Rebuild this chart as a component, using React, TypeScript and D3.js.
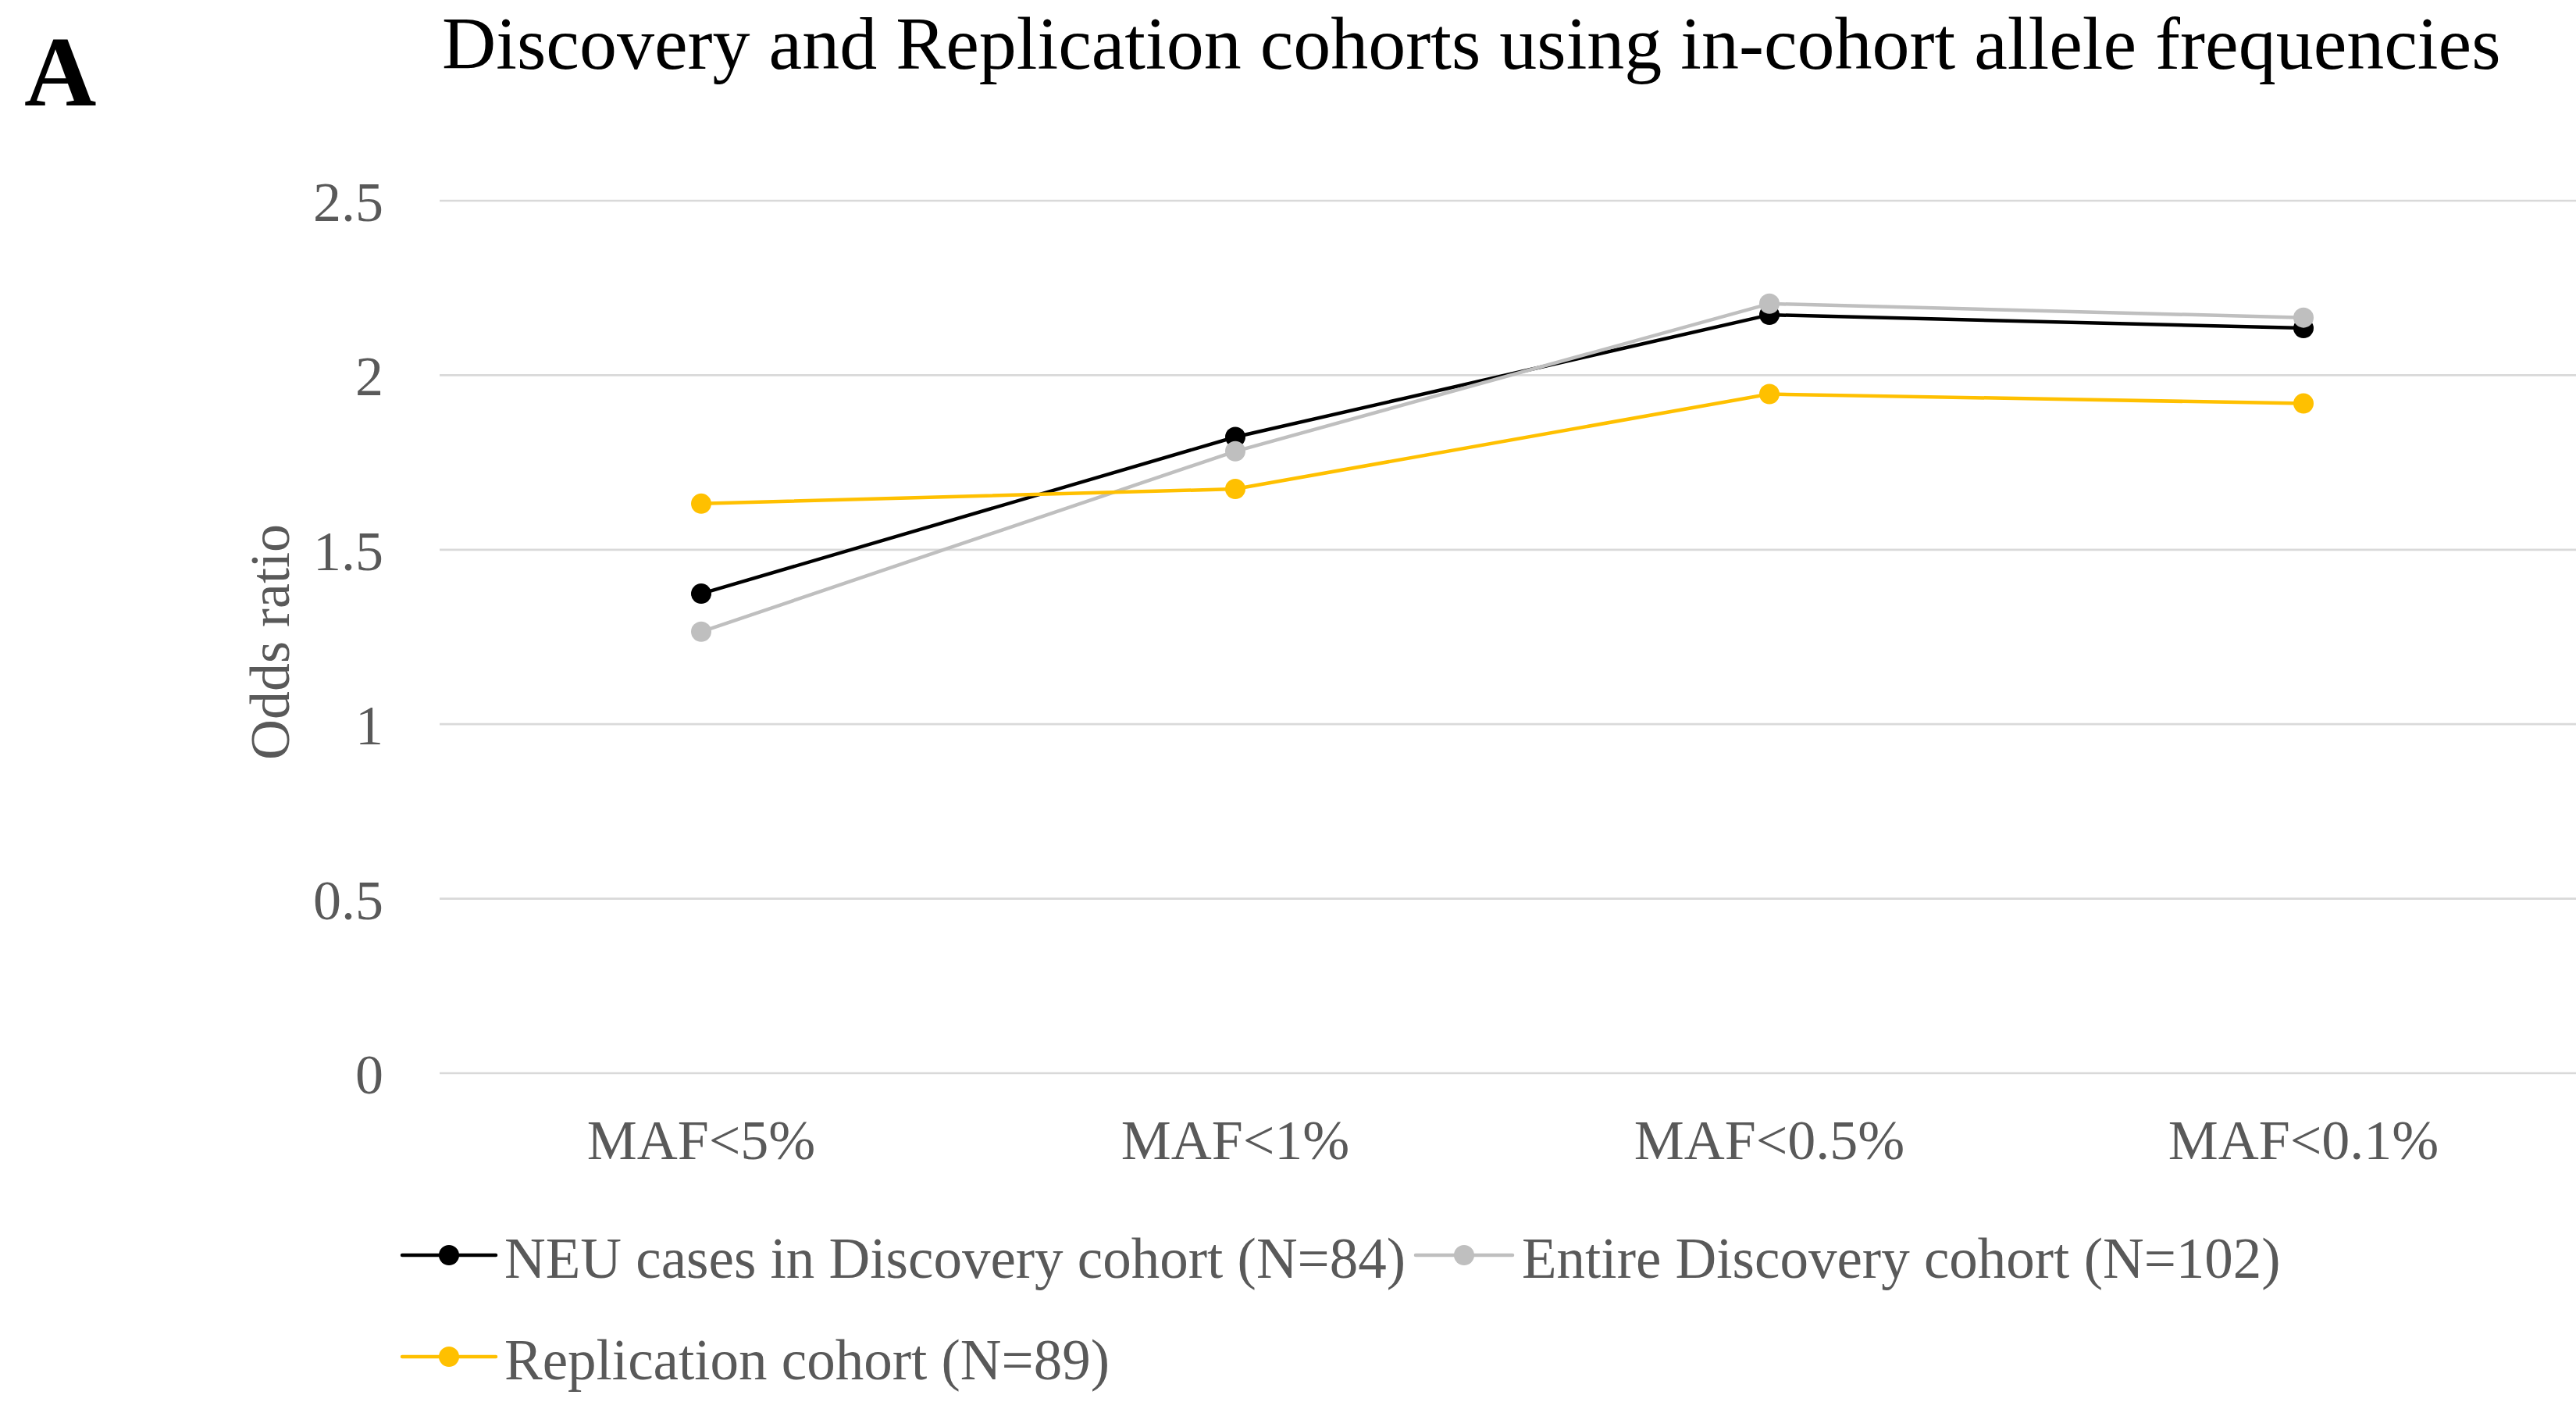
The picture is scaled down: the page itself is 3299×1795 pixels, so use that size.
import React from 'react';
import * as d3 from 'd3';

// chart data
const categories = ['MAF<5%', 'MAF<1%', 'MAF<0.5%', 'MAF<0.1%'];
const neuDiscovery = [1.374, 1.823, 2.173, 2.135];
const entireDiscovery = [1.265, 1.782, 2.205, 2.165];
const replication = [1.632, 1.674, 1.946, 1.919];
const yTicks = [0, 0.5, 1, 1.5, 2, 2.5];
const seriesNames = [
  'NEU cases in Discovery cohort (N=84)',
  'Entire Discovery cohort (N=102)',
  'Replication cohort (N=89)',
];
const seriesColors = ['#000000', '#BFBFBF', '#FFC000'];

const W = 3299;
const H = 1795;
const FONT = '"Liberation Serif", "Times New Roman", serif';

const App: React.FC = () => {
  const x = d3.scalePoint<string>().domain(categories).range([556, 3292]).padding(0.5);
  const y = d3.scaleLinear().domain([0, 2.5]).range([1374, 257]);

  const line = d3.line<number>()
    .x((d, i) => x(categories[i]) as number)
    .y(d => y(d));

  const series = [neuDiscovery, entireDiscovery, replication];

  // legend layout: [lineStart, lineEnd, textX, baselineY]
  const legendPos = [
    [515, 635, 646, 1636],
    [1813, 1937, 1949, 1636],
    [515, 635, 646, 1766],
  ];

  return (
    <svg width={W} height={H} style={{ position: 'absolute', left: 0, top: 0, background: '#fff' }}
      fontFamily={FONT}>
      <rect x={0} y={0} width={W} height={H} fill="#fff" />

      {/* panel letter + title */}
      <text x={31} y={135} fontSize={128} fontWeight="bold" fill="#000">A</text>
      <text x={566} y={88} fontSize={96} fill="#000">
        Discovery and Replication cohorts using in-cohort allele frequencies
      </text>

      {/* gridlines */}
      {yTicks.map(t => (
        <line key={'g' + t} x1={563} x2={W} y1={y(t)} y2={y(t)} stroke="#D9D9D9" strokeWidth={2.7} />
      ))}

      {/* y tick labels */}
      {yTicks.map(t => (
        <text key={'t' + t} x={491} y={y(t) + 26} textAnchor="end" fontSize={72} fill="#595959">
          {String(t)}
        </text>
      ))}

      <text transform="translate(370,822) rotate(-90)" textAnchor="middle" fontSize={72} fill="#595959">
        Odds ratio
      </text>

      {/* x labels */}
      {categories.map(c => (
        <text key={c} x={x(c)} y={1484} textAnchor="middle" fontSize={72} fill="#595959">{c}</text>
      ))}

      {/* series */}
      {series.map((s, si) => (
        <g key={'s' + si}>
          <path d={line(s) || ''} fill="none" stroke={seriesColors[si]} strokeWidth={4.5}
            strokeLinejoin="round" strokeLinecap="round" />
          {s.map((v, i) => (
            <circle key={i} cx={x(categories[i])} cy={y(v)} r={13} fill={seriesColors[si]} />
          ))}
        </g>
      ))}

      {/* legend */}
      {seriesNames.map((name, i) => {
        const [x1, x2, tx, by] = legendPos[i];
        const ly = by - 29;
        return (
          <g key={'l' + i}>
            <line x1={x1} x2={x2} y1={ly} y2={ly} stroke={seriesColors[i]} strokeWidth={4.5} strokeLinecap="round" />
            <circle cx={(x1 + x2) / 2} cy={ly} r={13} fill={seriesColors[i]} />
            <text x={tx} y={by} fontSize={73} fill="#595959">{name}</text>
          </g>
        );
      })}
    </svg>
  );
};

export default App;
